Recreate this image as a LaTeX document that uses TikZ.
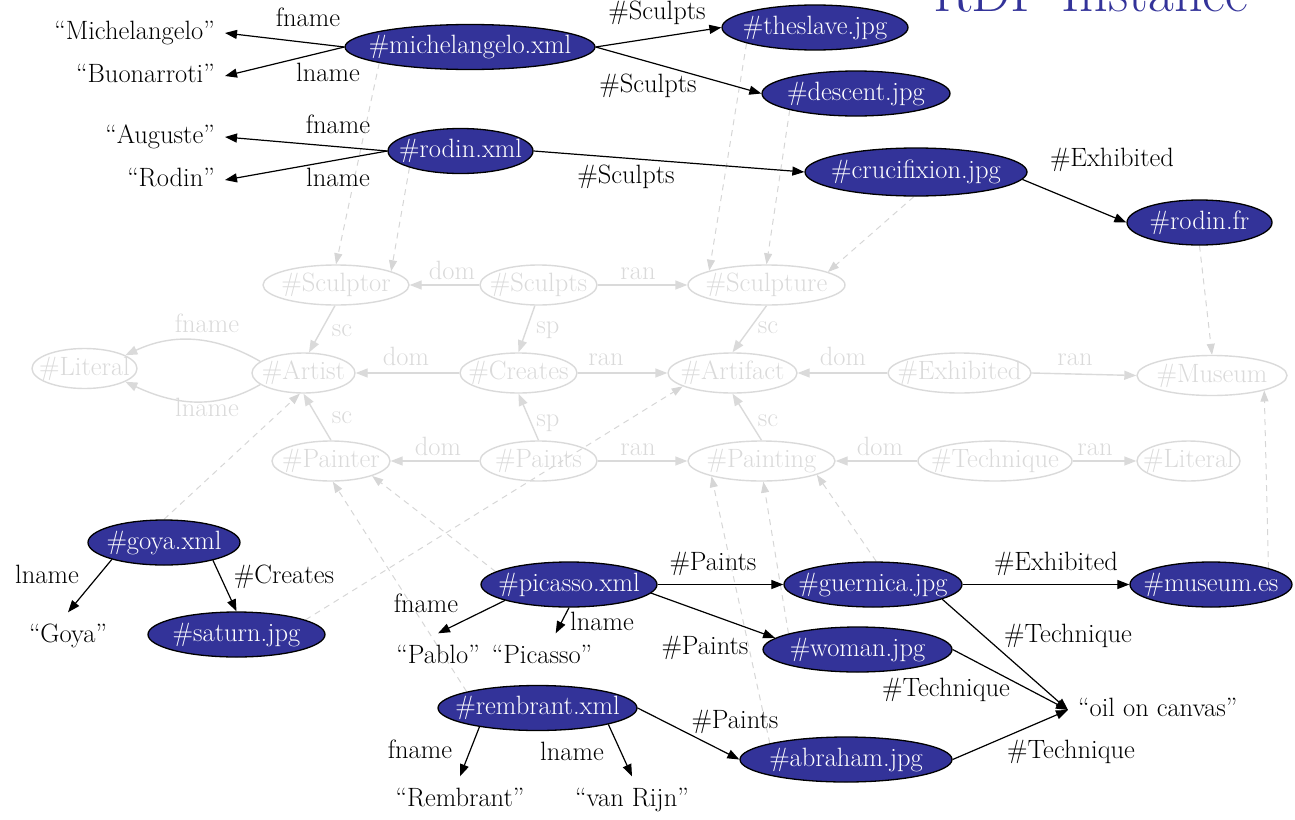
\documentclass[tikz,border=0pt]{standalone}
\usetikzlibrary{shapes.geometric,arrows.meta}
\definecolor{instblue}{RGB}{51,51,153}
\definecolor{classgray}{RGB}{218,218,218}
\definecolor{typegray}{RGB}{214,214,214}
% centre a label inside an ellipse whose size is set by minimum width/height
\newcommand{\cbox}[1]{\makebox[0pt]{#1}}
\pgfdeclarelayer{bg}
\pgfsetlayers{bg,main}
\begin{document}
\begin{tikzpicture}[x=1pt,y=-1pt,
  every node/.style={font=\fontsize{26.5}{30}\selectfont},
  inst/.style={ellipse, draw=black, line width=1.3pt, fill=instblue, text=white,
    inner sep=0pt, minimum height=45pt, text height=18pt, text depth=5pt},
  cls/.style={ellipse, draw=classgray, line width=1.4pt, text=classgray,
    inner sep=0pt, minimum height=40pt, text height=18pt, text depth=5pt},
  lit/.style={inner xsep=10pt, inner ysep=12pt, text height=18pt, text depth=5pt},
  lbl/.style={inner sep=0pt, text height=18pt, text depth=5pt},
  glbl/.style={lbl, text=classgray},
  rel/.style={-{Triangle[length=12pt,width=9pt]}, line width=1.2pt, black},
  crel/.style={-{Triangle[length=12pt,width=9pt]}, line width=1.4pt, classgray},
  typ/.style={-{Triangle[length=11pt,width=8pt]}, line width=1pt, typegray,
    dash pattern=on 6pt off 5pt},
]
\useasboundingbox (0,0) rectangle (1295,819);

% title
\node[anchor=base west, inner sep=0pt, text=instblue,
  font=\fontsize{56}{60}\selectfont] (title) at (933,12) {RDF Instance};

% ---------- schema (classes and properties) ----------
\node[cls, minimum width=146pt] (sculptor)  at (336,285)    {\cbox{\#Sculptor}};
\node[cls, minimum width=117pt] (sculpts)   at (538.5,285)  {\cbox{\#Sculpts}};
\node[cls, minimum width=157pt] (sculpture) at (766.5,285)  {\cbox{\#Sculpture}};
\node[cls, minimum width=105pt] (litA)      at (84.5,368.5) {\cbox{\#Literal}};
\node[cls, minimum width=103pt] (artist)    at (303.5,373)  {\cbox{\#Artist}};
\node[cls, minimum width=117pt] (creates)   at (518.5,373)  {\cbox{\#Creates}};
\node[cls, minimum width=129pt] (artifact)  at (732.5,373)  {\cbox{\#Artifact}};
\node[cls, minimum width=143pt] (exhibited) at (959.5,373)  {\cbox{\#Exhibited}};
\node[cls, minimum width=150pt] (museum)    at (1212,375.5) {\cbox{\#Museum}};
\node[cls, minimum width=118pt] (painter)   at (331,461)    {\cbox{\#Painter}};
\node[cls, minimum width=117pt] (paints)    at (538.5,461)  {\cbox{\#Paints}};
\node[cls, minimum width=147pt] (painting)  at (761.5,461)  {\cbox{\#Painting}};
\node[cls, minimum width=154pt] (technique) at (995,461)    {\cbox{\#Technique}};
\node[cls, minimum width=103pt] (litB)      at (1188.5,461) {\cbox{\#Literal}};

\draw[crel] (sculpts.west) -- (sculptor.east);
\draw[crel] (sculpts.east) -- (sculpture.west);
\draw[crel] (sculptor.-93) -- (artist.75);
\draw[crel] (sculpts.-100) -- (creates.north);
\draw[crel] (sculpture.south) -- (artifact.north);
\draw[crel] (creates.west) -- (artist.east);
\draw[crel] (creates.east) -- (artifact.west);
\draw[crel] (exhibited.west) -- (artifact.east);
\draw[crel] (exhibited.east) -- (museum.west);
\draw[crel] (artist.165) to[out=150,in=25] (litA.18);
\draw[crel] (artist.195) to[out=210,in=-25] (litA.-18);
\draw[crel] (painter.north) -- (artist.south);
\draw[crel] (paints.north) -- (creates.south);
\draw[crel] (painting.north) -- (artifact.south);
\draw[crel] (paints.west) -- (painter.east);
\draw[crel] (paints.east) -- (painting.west);
\draw[crel] (technique.west) -- (painting.east);
\draw[crel] (technique.east) -- (litB.west);

\node[glbl] (g-dom1) at (452,273) {dom};
\node[glbl] (g-ran1) at (638,273) {ran};
\node[glbl] (g-sc1)  at (342,330) {sc};
\node[glbl] (g-sp1)  at (548,327) {sp};
\node[glbl] (g-sc2)  at (768,327) {sc};
\node[glbl] (g-fn)   at (207,326) {fname};
\node[glbl] (g-ln)   at (207,410) {lname};
\node[glbl] (g-dom2) at (406,359) {dom};
\node[glbl] (g-ran2) at (606,359) {ran};
\node[glbl] (g-dom3) at (843,359) {dom};
\node[glbl] (g-ran3) at (1075,359) {ran};
\node[glbl] (g-sc3)  at (342,417) {sc};
\node[glbl] (g-sp2)  at (548,420) {sp};
\node[glbl] (g-sc4)  at (768,420) {sc};
\node[glbl] (g-dom4) at (438,449) {dom};
\node[glbl] (g-ran4) at (638,449) {ran};
\node[glbl] (g-dom5) at (880,449) {dom};
\node[glbl] (g-ran5) at (1095,449) {ran};

% ---------- instance data ----------
\node[inst, minimum width=250pt] (mich)     at (470,47)      {\cbox{\#michelangelo.xml}};
\node[inst, minimum width=186pt] (slave)    at (815,27.5)    {\cbox{\#theslave.jpg}};
\node[inst, minimum width=188pt] (descent)  at (856,93.5)    {\cbox{\#descent.jpg}};
\node[inst, minimum width=145pt] (rodin)    at (460.5,151)   {\cbox{\#rodin.xml}};
\node[inst, minimum width=222pt, minimum height=48pt] (cruc) at (916,172) {\cbox{\#crucifixion.jpg}};
\node[inst, minimum width=145pt] (rodinfr)  at (1199.5,222.5) {\cbox{\#rodin.fr}};
\node[inst, minimum width=152pt] (goya)     at (164,542.5)   {\cbox{\#goya.xml}};
\node[inst, minimum width=177pt] (saturn)   at (236.5,634.5) {\cbox{\#saturn.jpg}};
\node[inst, minimum width=176pt] (picasso)  at (569,584.5)   {\cbox{\#picasso.xml}};
\node[inst, minimum width=178pt] (guernica) at (873,584.5)   {\cbox{\#guernica.jpg}};
\node[inst, minimum width=162pt] (museumes) at (1211,584.5)  {\cbox{\#museum.es}};
\node[inst, minimum width=189pt] (woman)    at (857.5,649.5) {\cbox{\#woman.jpg}};
\node[inst, minimum width=199pt] (remb)     at (537.5,708)   {\cbox{\#rembrant.xml}};
\node[inst, minimum width=212pt] (abraham)  at (846,759.5)   {\cbox{\#abraham.jpg}};

% literal values
\node[lit, anchor=east] (vMichel)  at (225,33)  {“Michelangelo”};
\node[lit, anchor=east] (vBuon)    at (225,76)  {“Buonarroti”};
\node[lit, anchor=east] (vAuguste) at (225,137) {“Auguste”};
\node[lit, anchor=east] (vRodin)   at (225,180) {“Rodin”};
\node[lit] (vGoya)     at (68,636)  {“Goya”};
\node[lit] (vPablo)    at (438,657) {“Pablo”};
\node[lit] (vPicasso)  at (542,657) {“Picasso”};
\node[lit] (vRembrant) at (460,800) {“Rembrant”};
\node[lit] (vRijn)     at (632,800) {“van Rijn”};
\node[lit, anchor=west] (vOil) at (1068,710) {“oil on canvas”};

% property arcs
\draw[rel] (mich.west) -- (vMichel.east);
\draw[rel] (mich.west) -- (vBuon.east);
\draw[rel] (mich.east) -- (slave.west);
\draw[rel] (mich.east) -- (descent.west);
\draw[rel] (rodin.west) -- (vAuguste.east);
\draw[rel] (rodin.west) -- (vRodin.east);
\draw[rel] (rodin.east) -- (cruc.west);
\draw[rel] (cruc.-4) -- (rodinfr.west);
\draw[rel] (goya.-162) -- (vGoya.north);
\draw[rel] (goya.-20) -- (saturn.north);
\draw[rel] (picasso.-166) -- (vPablo.north);
\draw[rel] (picasso.south) -- (vPicasso.60);
\draw[rel] (picasso.east) -- (guernica.west);
\draw[rel] (picasso.-6) -- (woman.172);
\draw[rel] (guernica.east) -- (museumes.west);
\draw[rel] (guernica.-12) -- (vOil.west);
\draw[rel] (woman.east) -- (vOil.west);
\draw[rel] (abraham.east) -- (vOil.west);
\draw[rel] (remb.east) -- (abraham.west);
\draw[rel] (remb.-162) -- (vRembrant.north);
\draw[rel] (remb.-13) -- (vRijn.north);

\node[lbl] (l-mf)  at (308,20)   {fname};
\node[lbl] (l-ml)  at (328,75)   {lname};
\node[lbl] (l-s1)  at (657,13)   {\#Sculpts};
\node[lbl] (l-s2)  at (648,86)   {\#Sculpts};
\node[lbl] (l-rf)  at (338,127)  {fname};
\node[lbl] (l-rl)  at (338,180)  {lname};
\node[lbl] (l-s3)  at (626,177)  {\#Sculpts};
\node[lbl] (l-e1)  at (1112,160) {\#Exhibited};
\node[lbl] (l-gl)  at (47,577)   {lname};
\node[lbl] (l-gc)  at (284,577)  {\#Creates};
\node[lbl] (l-pf)  at (426,606)  {fname};
\node[lbl] (l-pl)  at (602,624)  {lname};
\node[lbl] (l-p1)  at (713,564)  {\#Paints};
\node[lbl] (l-p2)  at (705,648)  {\#Paints};
\node[lbl] (l-e2)  at (1056,564) {\#Exhibited};
\node[lbl] (l-t1)  at (1068,636) {\#Technique};
\node[lbl] (l-t2)  at (946,690)  {\#Technique};
\node[lbl] (l-t3)  at (1071,752) {\#Technique};
\node[lbl] (l-p3)  at (735,722)  {\#Paints};
\node[lbl] (l-rbf) at (420,752)  {fname};
\node[lbl] (l-rbl) at (572,754)  {lname};

% rdf:type links from instances to their classes
\begin{pgfonlayer}{bg}
\draw[typ] (mich.-170)     -- (sculptor.north);
\draw[typ] (rodin.-162)    -- (sculptor.14);
\draw[typ] (slave.-167)    -- (sculpture.166);
\draw[typ] (descent.-166)  -- (sculpture.north);
\draw[typ] (cruc.-95)      -- (sculpture.12);
\draw[typ] (rodinfr.south) -- (museum.north);
\draw[typ] (museumes.16)   -- (museum.-16);
\draw[typ] (goya.north)    -- (artist.-100);
\draw[typ] (saturn.12)     -- (artifact.-165);
\draw[typ] (picasso.170)   -- (painter.-20);
\draw[typ] (remb.167)      -- (painter.-85);
\draw[typ] (guernica.82)   -- (painting.-14);
\draw[typ] (woman.167)     -- (painting.-85);
\draw[typ] (abraham.168)   -- (painting.-163);
\end{pgfonlayer}
\end{tikzpicture}
\end{document}
